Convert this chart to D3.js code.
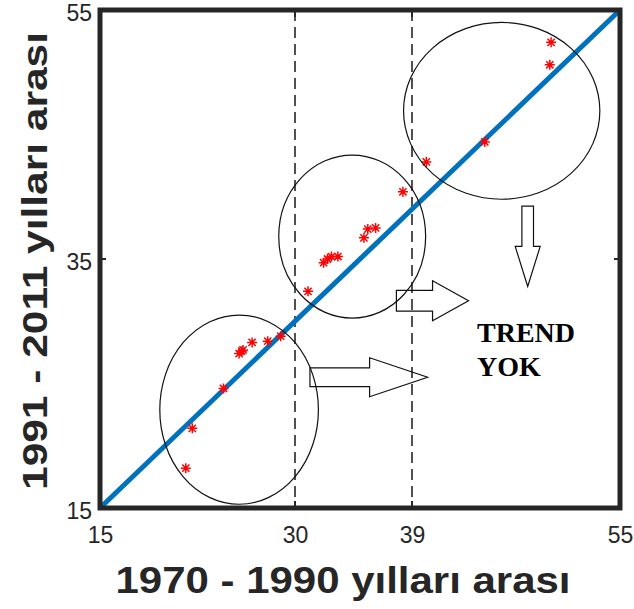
<!DOCTYPE html>
<html>
<head>
<meta charset="utf-8">
<script src="https://cdn.jsdelivr.net/npm/d3@7"></script>
<style>
  body { margin: 0; background: #fff; }
  text { font-family: "Liberation Sans", Arial, sans-serif; }
</style>
</head>
<body>
<div id="container"></div>
<script>
// Data
var xTicks = [15, 30, 39, 55];
var yTicks = [15, 35, 55];
var splitLines = [30, 39];
var refLine = [15, 55];

// 1970-1990 (x) vs 1991-2011 (y)
var period1 = [21.6, 22.1, 24.5, 25.7, 25.9, 26.0, 26.7, 27.9, 28.9,
               31.0, 32.2, 32.5, 32.8, 33.3, 35.3, 35.6, 36.2, 38.3,
               40.1, 44.6, 49.6, 49.7];
var period2 = [18.2, 21.4, 24.6, 27.4, 27.6, 27.7, 28.3, 28.4, 28.8,
               32.4, 34.7, 35.0, 35.2, 35.2, 36.7, 37.4, 37.5, 40.4,
               42.8, 44.4, 50.6, 52.4];

// annotation groups (data units)
var groupCx = [25.7, 34.4, 45.9];
var groupCy = [22.9, 36.8, 46.9];
var groupRx = [6.1, 5.65, 7.55];
var groupRy = [7.6, 6.55, 7.1];

// arrows: tail -> tip (data units)
var arrowTail = [[31.15, 25.5], [37.8, 31.65], [47.9, 39.25]];
var arrowTip  = [[40.2, 25.5], [43.35, 31.65], [47.9, 32.8]];

var noteLines = ['TREND', 'YOK'];
var noteX = 44.0, noteY = [28.35, 25.6];

var WIDTH = 634,
    HEIGHT = 609;

var x = d3.scaleLinear().domain([15, 55]).range([100, 620]);
var y = d3.scaleLinear().domain([15, 55]).range([508, 10]);

var svg = d3.select('#container')
    .append('svg')
    .attr('width', WIDTH)
    .attr('height', HEIGHT);

var ink = '#262626';

// dashed split lines
svg.selectAll('.split')
    .data(splitLines)
    .enter()
    .append('line')
    .attr('x1', function(d) { return x(d); })
    .attr('x2', function(d) { return x(d); })
    .attr('y1', y(55))
    .attr('y2', y(15))
    .attr('stroke', ink)
    .attr('stroke-width', 1.6)
    .attr('stroke-dasharray', '11,6');

// 1:1 line
svg.append('line')
    .attr('x1', x(refLine[0])).attr('y1', y(refLine[0]))
    .attr('x2', x(refLine[1])).attr('y2', y(refLine[1]))
    .attr('stroke', '#0072BD')
    .attr('stroke-width', 5);

// asterisk markers
var s = 5, k = 0.72 * s;
var star = 'M' + (-s) + ',0H' + s + 'M0,' + (-s) + 'V' + s +
    'M' + (-k) + ',' + (-k) + 'L' + k + ',' + k +
    'M' + (-k) + ',' + k + 'L' + k + ',' + (-k);

svg.selectAll('.pt')
    .data(period1)
    .enter()
    .append('path')
    .attr('class', 'pt')
    .attr('d', star)
    .attr('transform', function(d, i) {
        return 'translate(' + x(d) + ',' + y(period2[i]) + ')';
    })
    .attr('stroke', '#ff0000')
    .attr('stroke-width', 1.5)
    .attr('fill', 'none');

// ellipses
svg.selectAll('.grp')
    .data(groupCx)
    .enter()
    .append('ellipse')
    .attr('cx', function(d) { return x(d); })
    .attr('cy', function(d, i) { return y(groupCy[i]); })
    .attr('rx', function(d, i) { return x(d + groupRx[i]) - x(d); })
    .attr('ry', function(d, i) { return y(groupCy[i] - groupRy[i]) - y(groupCy[i]); })
    .attr('fill', 'none')
    .attr('stroke', '#111')
    .attr('stroke-width', 1.2);

// block arrows (shaft width, head width, head length in px)
var arrowStyle = [[18.7, 39, 58], [20.7, 40, 36], [11.6, 25, 40]];

var arrowPath = function(t, h, st) {
    var x0 = x(t[0]), y0 = y(t[1]), x1 = x(h[0]), y1 = y(h[1]);
    var len = Math.hypot(x1 - x0, y1 - y0);
    var a = Math.atan2(y1 - y0, x1 - x0);
    var sw = st[0] / 2, hw = st[1] / 2, hl = st[2];
    var pts = [[0, -sw], [len - hl, -sw], [len - hl, -hw], [len, 0],
               [len - hl, hw], [len - hl, sw], [0, sw]];
    return 'M' + pts.map(function(p) {
        return [x0 + p[0] * Math.cos(a) - p[1] * Math.sin(a),
                y0 + p[0] * Math.sin(a) + p[1] * Math.cos(a)].join(',');
    }).join('L') + 'Z';
};

svg.selectAll('.arrow')
    .data(arrowTail)
    .enter()
    .append('path')
    .attr('d', function(d, i) { return arrowPath(d, arrowTip[i], arrowStyle[i]); })
    .attr('fill', 'none')
    .attr('stroke', '#111')
    .attr('stroke-width', 1.2);

// TREND YOK
svg.selectAll('.note')
    .data(noteLines)
    .enter()
    .append('text')
    .attr('x', x(noteX))
    .attr('y', function(d, i) { return y(noteY[i]); })
    .style('font-family', '"Liberation Serif", "Times New Roman", serif')
    .style('font-weight', 'bold')
    .style('font-size', '28px')
    .attr('fill', '#000')
    .text(function(d) { return d; });

// axes box
svg.append('rect')
    .attr('x', x(15)).attr('y', y(55))
    .attr('width', x(55) - x(15))
    .attr('height', y(15) - y(55))
    .attr('fill', 'none')
    .attr('stroke', ink)
    .attr('stroke-width', 5);

var xAxis = d3.axisBottom(x).tickValues(xTicks).tickSize(0).tickPadding(19)
    .tickFormat(d3.format('d'));
var yAxis = d3.axisLeft(y).tickValues(yTicks).tickSize(0).tickPadding(8)
    .tickFormat(d3.format('d'));

var gx = svg.append('g').attr('transform', 'translate(0,' + y(15) + ')').call(xAxis);
var gy = svg.append('g').attr('transform', 'translate(' + x(15) + ',0)').call(yAxis);
[gx, gy].forEach(function(g) {
    g.select('.domain').remove();
    g.selectAll('text')
        .style('font-family', '"Liberation Sans", Arial, sans-serif')
        .style('font-size', '23px')
        .attr('fill', ink);
});
gy.selectAll('text').attr('dy', '0.45em');

// inward tick marks
svg.selectAll('.xt')
    .data(splitLines)
    .enter()
    .append('path')
    .attr('d', function(d) {
        return 'M' + x(d) + ',' + y(15) + 'v-7M' + x(d) + ',' + y(55) + 'v7';
    })
    .attr('stroke', ink)
    .attr('stroke-width', 2);
svg.append('path')
    .attr('d', 'M' + x(15) + ',' + y(35) + 'h6M' + x(55) + ',' + y(35) + 'h-6')
    .attr('stroke', ink)
    .attr('stroke-width', 2);

// axis titles
svg.append('text')
    .attr('x', 343)
    .attr('y', 593)
    .attr('text-anchor', 'middle')
    .attr('textLength', 455)
    .attr('lengthAdjust', 'spacingAndGlyphs')
    .style('font-weight', 'bold')
    .style('font-size', '36px')
    .attr('fill', ink)
    .text('1970 - 1990 yılları arası');

svg.append('text')
    .attr('transform', 'translate(47,261) rotate(-90)')
    .attr('text-anchor', 'middle')
    .attr('textLength', 458)
    .attr('lengthAdjust', 'spacingAndGlyphs')
    .style('font-weight', 'bold')
    .style('font-size', '35px')
    .attr('fill', ink)
    .text('1991 - 2011 yılları arası');
</script>
</body>
</html>
